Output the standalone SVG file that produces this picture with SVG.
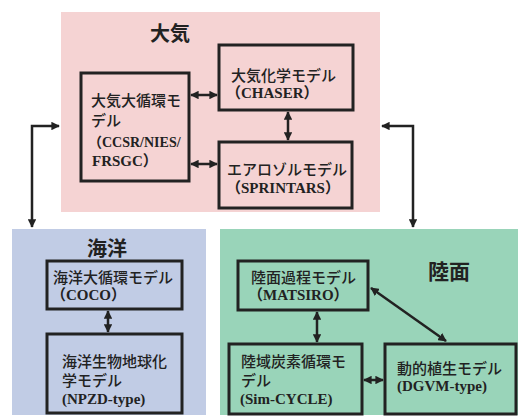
<svg xmlns="http://www.w3.org/2000/svg" width="518" height="417" viewBox="0 0 518 417">
<defs>
<marker id="ah" viewBox="0 0 10 10" refX="9" refY="5" markerWidth="3.4" markerHeight="3.4" orient="auto-start-reverse" markerUnits="strokeWidth">
<path d="M0,0 L10,5 L0,10 z" fill="#222"/>
</marker>
<style>
.panel{stroke:none}
.box{fill:none;stroke:#222;stroke-width:3}
.jp{font-family:"Noto Sans CJK JP","Noto Sans",sans-serif;font-size:15px;font-weight:500;fill:#222}
.lat{font-family:"Liberation Serif","Times New Roman","Noto Sans CJK JP",serif;font-size:15px;font-weight:bold;fill:#222}
.ttl{font-family:"Noto Sans CJK JP","Noto Sans",sans-serif;font-size:20px;font-weight:bold;fill:#222}
.con{fill:none;stroke:#222;stroke-width:2.5;marker-start:url(#ah);marker-end:url(#ah)}
</style>
</defs>
<rect width="518" height="417" fill="#fff"/>
<g id="atmosphere">
<rect class="panel" x="61" y="12" width="319" height="200" fill="#f5d3d3"/>
<text class="ttl" x="150" y="41">大気</text>
</g>
<g id="ocean">
<rect class="panel" x="12" y="229" width="194" height="186" fill="#c1cce5"/>
<text class="ttl" x="87" y="256">海洋</text>
</g>
<g id="land">
<rect class="panel" x="220" y="229" width="298" height="186" fill="#99d4b9"/>
<text class="ttl" x="428" y="279" style="font-size:21px">陸面</text>
</g>
<g id="agcm">
<rect class="box" x="81" y="73" width="108" height="108"/>
<text class="jp" x="91" y="106">大気大循環モ</text>
<text class="jp" x="91" y="126">デル</text>
<text class="lat" x="88" y="147" style="font-size:14px">（CCSR/NIES/</text>
<text class="lat" x="92" y="166">FRSGC）</text>
</g>
<g id="chaser">
<rect class="box" x="219" y="45" width="134" height="65"/>
<text class="jp" x="231" y="81">大気化学モデル</text>
<text class="lat" x="226" y="98">（CHASER）</text>
</g>
<g id="sprintars">
<rect class="box" x="219" y="142" width="133" height="66"/>
<text class="jp" x="227" y="175">エアロゾルモデル</text>
<text class="lat" x="226" y="193">（SPRINTARS）</text>
</g>
<g id="coco">
<rect class="box" x="47" y="261" width="135" height="48"/>
<text class="jp" x="53" y="283">海洋大循環モデル</text>
<text class="lat" x="51" y="300">（COCO）</text>
</g>
<g id="npzd">
<rect class="box" x="47" y="334" width="135" height="79"/>
<text class="jp" x="62" y="367">海洋生物地球化</text>
<text class="jp" x="62" y="386">学モデル</text>
<text class="lat" x="62" y="404">(NPZD-type)</text>
</g>
<g id="matsiro">
<rect class="box" x="238" y="261" width="130" height="49"/>
<text class="jp" x="251" y="283">陸面過程モデル</text>
<text class="lat" x="248" y="300">（MATSIRO）</text>
</g>
<g id="simcycle">
<rect class="box" x="229" y="344" width="133" height="70"/>
<text class="jp" x="241" y="367">陸域炭素循環モ</text>
<text class="jp" x="241" y="386">デル</text>
<text class="lat" x="240" y="404">(Sim-CYCLE)</text>
</g>
<g id="dgvm">
<rect class="box" x="385" y="344" width="131" height="70"/>
<text class="jp" x="397" y="374">動的植生モデル</text>
<text class="lat" x="397" y="391">(DGVM-type)</text>
</g>
<g id="connectors">
<path class="con" d="M191,95 H217"/>
<path class="con" d="M191,164 H217"/>
<path class="con" d="M288,112 V140"/>
<path class="con" d="M59,126 H32 V227"/>
<path class="con" d="M382,126 H413 V227"/>
<path class="con" d="M108,311 V332"/>
<path class="con" d="M317,312 V342"/>
<path class="con" d="M371,288 L446,341"/>
<path class="con" d="M364,380 H383"/>
</g>
</svg>
